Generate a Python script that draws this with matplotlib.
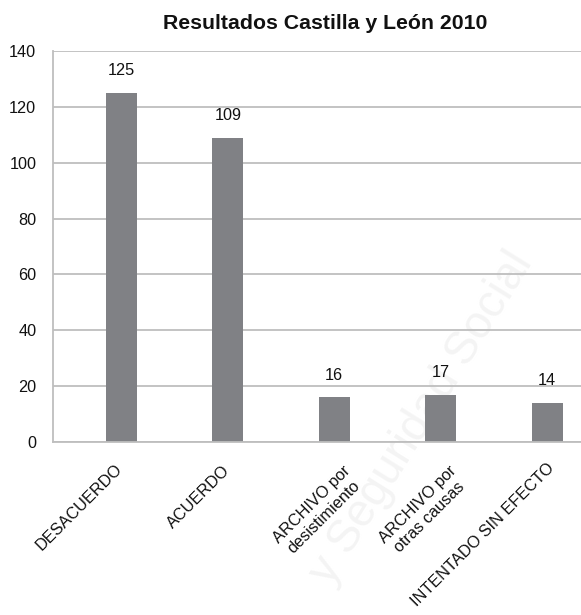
import matplotlib
matplotlib.use("Agg")
import matplotlib.pyplot as plt

plt.rcParams['font.family'] = ['Liberation Sans', 'DejaVu Sans']

# Data
categories = ["DESACUERDO", "ACUERDO", "ARCHIVO por\ndesistimiento",
              "ARCHIVO por\notras causas", "INTENTADO SIN EFECTO"]
values = [125, 109, 16, 17, 14]
yticks = [0, 20, 40, 60, 80, 100, 120, 140]
title = "Resultados Castilla y León 2010"

# Style
DPI = 100
W, H = 581, 615
bar_color = "#808185"
grid_color = "#bebebe"
# per-label nudges (pixels) of the rotated category labels
label_dx_px = [-2, 0, 20, 19, 5]
label_dy_px = [-25, -26, -33, -33, -24]

fig = plt.figure(figsize=(W / DPI, H / DPI), dpi=DPI)
ax = fig.add_axes([53 / W, 173 / H, 1 - 53 / W, 391 / H])
ax.set_facecolor("none")

x = list(range(len(values)))
ax.bar(x, values, width=0.288, color=bar_color, zorder=2)

ax.set_ylim(0, 140)
ax.set_xlim(-0.641, 4.317)
ax.set_yticks(yticks)
ax.set_yticklabels([str(t) for t in yticks], fontsize=11.7, color="#111111")
ax.tick_params(axis="y", length=0, pad=12)
ax.set_xticks([])

ax.set_axisbelow(True)
ax.yaxis.grid(True, color=grid_color, linewidth=1.3)
for side in ["top", "right"]:
    ax.spines[side].set_visible(False)
ax.spines["left"].set_color(grid_color)
ax.spines["left"].set_linewidth(1.3)
ax.spines["bottom"].set_color(grid_color)
ax.spines["bottom"].set_linewidth(1.3)

# value labels above the bars
for xi, v in zip(x, values):
    ax.annotate(str(v), xy=(xi, v), xytext=(0, 16), textcoords="offset points",
                ha="center", va="center", fontsize=11.7, color="#111111")

# rotated category labels
for xi, lab, dx, dy in zip(x, categories, label_dx_px, label_dy_px):
    ax.annotate(lab, xy=(xi, 0), xycoords=("data", "axes fraction"),
                xytext=(dx * 72 / DPI, dy * 72 / DPI), textcoords="offset points",
                rotation=45, rotation_mode="anchor", ha="right", va="center",
                multialignment="center", fontsize=11.7, color="#111111",
                annotation_clip=False, linespacing=1.2)

# faint background watermark
ax.text(422 / W, 1 - 418 / H, "y Seguridad Social", transform=fig.transFigure,
        rotation=58, rotation_mode="anchor", ha="center", va="center",
        fontsize=33, color="#f4f4f4", zorder=0.3, clip_on=False)

fig.text(325 / W, 1 - 29 / H, title, ha="center", va="baseline",
         fontsize=15.3, fontweight="bold", color="#111111")

fig.savefig("out.png", dpi=DPI)
